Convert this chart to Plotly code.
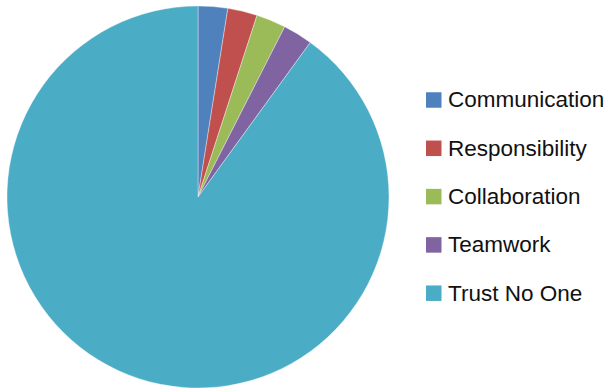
import plotly.graph_objects as go

labels = ["Communication", "Responsibility", "Collaboration", "Teamwork", "Trust No One"]
values = [2.5, 2.5, 2.5, 2.5, 90]
colors = ["#4F81BD", "#C0504D", "#9BBB59", "#8064A2", "#4BACC6"]

W, H = 606, 390

fig = go.Figure()
fig.add_trace(go.Pie(
    labels=labels, values=values, sort=False, direction="clockwise", rotation=0,
    marker=dict(colors=colors, line=dict(color="rgba(255,255,255,0.6)", width=0.6)),
    textinfo="none", hoverinfo="label+percent", showlegend=False,
    domain=dict(x=[7 / W, 389 / W], y=[(H - 388) / H, (H - 6) / H]),
))

# legend drawn as keys + text
leg_x_key = 426
leg_x_text = 446
leg_y0 = 100
leg_dy = 48.3
for i, (lab, col) in enumerate(zip(labels, colors)):
    yc = leg_y0 + i * leg_dy
    fig.add_shape(type="rect", xref="paper", yref="paper",
                  x0=leg_x_key / W, x1=(leg_x_key + 15.5) / W,
                  y0=1 - (yc + 7.75) / H, y1=1 - (yc - 7.75) / H,
                  fillcolor=col, line=dict(width=0))
    fig.add_annotation(text=lab, xref="paper", yref="paper",
                       x=leg_x_text / W, y=1 - yc / H, xanchor="left", yanchor="middle",
                       showarrow=False, font=dict(family="Liberation Sans, Arial", size=22.5, color="#111111"))

fig.update_layout(width=W, height=H, margin=dict(l=0, r=0, t=0, b=0),
                  paper_bgcolor="white", plot_bgcolor="white")
fig.write_html("out.html")
